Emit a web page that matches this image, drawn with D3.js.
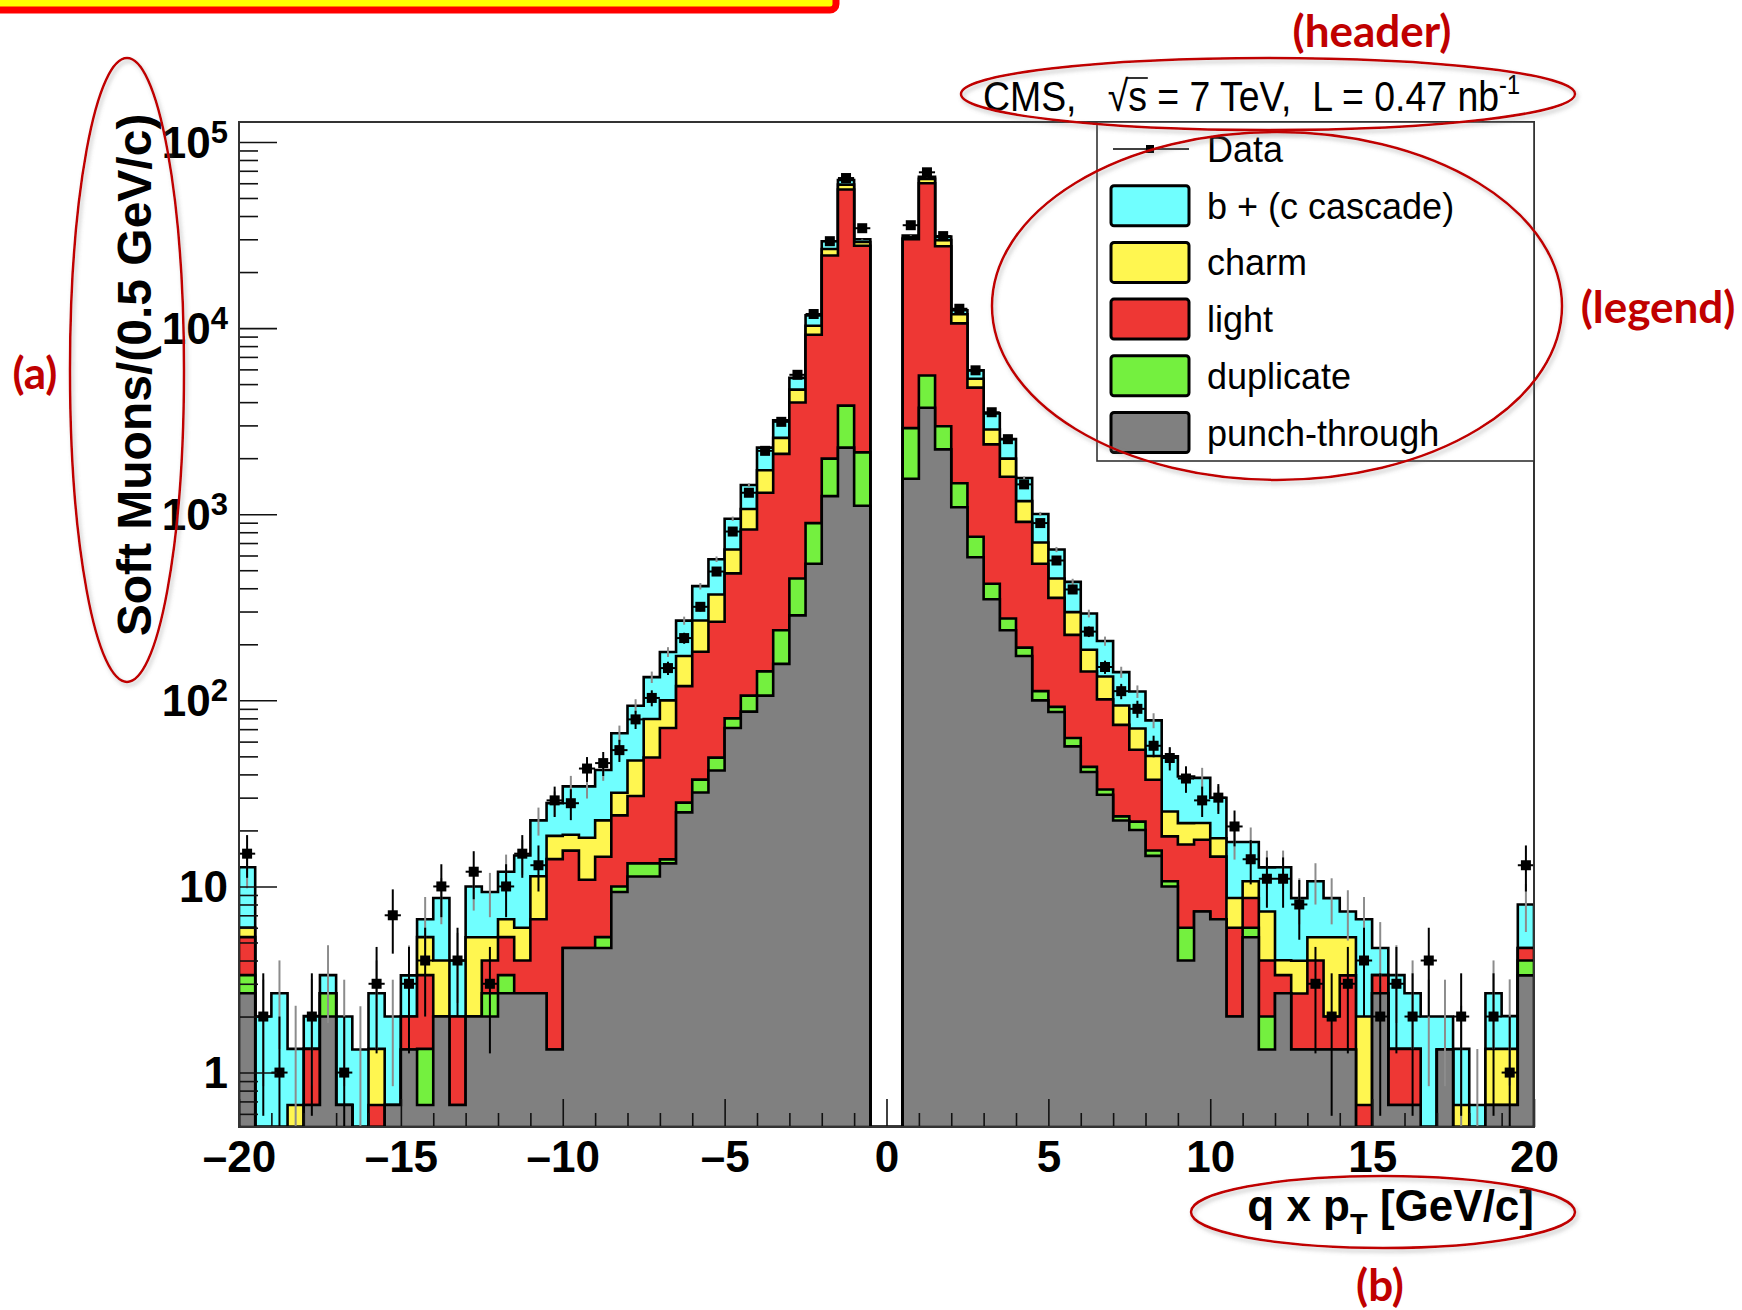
<!DOCTYPE html>
<html>
<head>
<meta charset="utf-8">
<script src="https://cdn.jsdelivr.net/npm/d3@7"></script>
<style>
  body { margin: 0; background: #fff; }
  svg { display: block; }
  text { font-family: "Liberation Sans", Arial, Helvetica, sans-serif; }
  .note { font-family: Lato, "Open Sans", sans-serif; font-weight: bold; fill: #c00000; }
</style>
</head>
<body>
<div id="chart"></div>
<script>
// 80 bins of 0.5 GeV/c, low edges from -20 to 19.5
var binWidth = 0.5;
var binLow = d3.range(-20, 20, binWidth);

// stacked MC components per bin
var punchThrough = [2.67, 0, 0, 0, 0.67, 2, 0.67, 0, 0, 0.67,
  1.33, 0.67, 2, 0.67, 2, 2, 2.67, 2.67, 2.67, 1.33,
  4.67, 4.67, 4.67, 9.33, 11.3, 11.3, 13.3, 25, 32, 42,
  71, 87, 106, 157, 286, 542, 1250, 2280, 1110, 0,
  0, 1550, 3730, 2230, 1090, 587, 349, 238, 173, 100,
  86.5, 56.6, 41.2, 31.1, 22.6, 20.1, 14.6, 10, 4, 7.33,
  6.67, 2, 5.33, 1.33, 2.67, 1.33, 1.33, 1.33, 1.33, 0,
  2.67, 0.67, 0.67, 0, 1.33, 0, 0, 0.67, 0.67, 3.33];
var duplicate = [0.67, 0, 0, 0, 0, 0.67, 0, 0, 0, 0,
  0, 0.67, 0, 0, 0, 0.67, 0.67, 0, 0, 0,
  0, 0, 0.67, 0.67, 2, 2, 0.67, 3.2, 5.5, 7.2,
  9, 19, 37, 81, 165, 353, 740, 1550, 1040, 0,
  0, 1350, 1830, 740, 376, 170, 74, 37, 19, 12,
  5.7, 6.2, 2.7, 2.1, 1.2, 2.2, 1, 0.67, 2, 0,
  0, 0, 0.67, 0.67, 0, 0, 0, 0, 0, 0,
  0, 0, 0, 0, 0, 0, 0, 0, 0, 0.67];
var light = [2, 0, 0, 0, 0.67, 0, 0, 0, 0.67, 0,
  0.67, 2, 0, 1.33, 0, 1.33, 2, 1.33, 4, 12.7,
  10.9, 6.2, 9.1, 14.1, 17.3, 36, 57, 91, 145, 215,
  401, 721, 1160, 1870, 3530, 8310, 22560, 51670, 25550, 0,
  0, 27100, 54400, 24530, 9130, 4030, 1950, 1315, 718, 430,
  263, 162, 99, 68, 50, 32, 21.8, 7.9, 10.8, 10.5,
  7.8, 4, 2.67, 2, 0.67, 1.33, 2.67, 0.67, 2, 0.67,
  0.67, 0.67, 0.67, 0, 0, 0, 0, 0, 0, 0.67];
var charm = [0.67, 0, 0, 0.67, 0, 0, 0, 0, 0.67, 0,
  0, 2, 2, 0, 3.33, 1.33, 1.33, 2, 4.67, 4.67,
  3.4, 7.4, 8.2, 7.8, 16.9, 30, 29, 54, 86, 106,
  165, 240, 418, 464, 689, 1090, 2050, 3500, 1300, 0,
  0, 500, 3400, 2200, 1280, 560, 480, 400, 266, 163,
  96, 73, 44, 33, 20, 16.3, 12.8, 6.7, 5.1, 4.1,
  3.7, 2.67, 2, 3.33, 0.67, 1.33, 1.33, 3.33, 2, 1.33,
  0, 0, 0, 0, 0, 0.67, 0, 0.67, 0.67, 0];
var bCascade = [6.67, 2, 2.67, 0.67, 0.67, 0.67, 1.33, 1.33, 1.33, 1.33,
  1.33, 1.33, 4.67, 2, 4.67, 4, 5.33, 8.67, 11.3, 9.33,
  15.5, 16.2, 19.6, 34.6, 46, 54, 82, 95, 142, 203,
  300, 368, 558, 619, 730, 1410, 2700, 3500, 1000, 0,
  0, 900, 1600, 1300, 590, 580, 630, 540, 390, 298,
  195, 135, 106, 74, 48, 41, 27.8, 24.7, 17.1, 16.4,
  11.8, 8.67, 6.67, 5.33, 8.67, 4.67, 5.33, 3.33, 2, 4.67,
  1.33, 2, 1.33, 2, 0.67, 0.67, 0.67, 1.33, 0.67, 3.33];

// observed counts
var dataCounts = [15, 2, 1, 0, 2, 0, 1, 0, 3, 7,
  3, 4, 10, 4, 12, 3, 10, 15, 13, 29,
  28, 43, 46, 54, 79, 103, 149, 216, 318, 492,
  807, 1304, 2190, 3135, 5610, 11900, 29300, 64000, 34400, 0,
  0, 35700, 68700, 31200, 12700, 5930, 3530, 2530, 1446, 896,
  564, 394, 234, 151, 112, 90, 57, 49, 38, 29,
  30, 21, 14, 11, 11, 8, 3, 2, 3, 4,
  2, 3, 2, 4, 0, 2, 0, 2, 1, 13];

var xTicks = [-20, -15, -10, -5, 0, 5, 10, 15, 20];
var xMinorTicks = [-19, -18, -17, -16, -14, -13, -12, -11, -9, -8, -7, -6, -4, -3, -2, -1,
  1, 2, 3, 4, 6, 7, 8, 9, 11, 12, 13, 14, 16, 17, 18, 19];
var yTicks = [1, 10, 100, 1000, 10000, 100000];
var yMinorTicks = [0.6, 0.7, 0.8, 0.9, 2, 3, 4, 5, 6, 7, 8, 9, 20, 30, 40, 50, 60, 70, 80, 90,
  200, 300, 400, 500, 600, 700, 800, 900, 2000, 3000, 4000, 5000, 6000, 7000, 8000, 9000,
  20000, 30000, 40000, 50000, 60000, 70000, 80000, 90000];

var legendLabels = ["Data", "b + (c cascade)", "charm", "light", "duplicate", "punch-through"];
var keys = ["punch", "dup", "light", "charm", "bcc"];
var colours = {punch: "#808080", dup: "#74f03f", light: "#ee3734", charm: "#fff650", bcc: "#70ffff"};
var mcWeight = 0.667;

// page and frame
var svgWidth = 1742, svgHeight = 1310;
var frame = {left: 239, right: 1534, top: 122, bottom: 1127};
var yMin = 0.51, yMax = 1.28e5;

var svg = d3.select("#chart").append("svg")
  .attr("width", svgWidth)
  .attr("height", svgHeight);

var defs = svg.append("defs");
defs.append("clipPath").attr("id", "plotClip")
  .append("rect")
  .attr("x", frame.left).attr("y", frame.top)
  .attr("width", frame.right - frame.left).attr("height", frame.bottom - frame.top);
var shadow = defs.append("filter").attr("id", "shadow")
  .attr("x", "-10%").attr("y", "-10%").attr("width", "120%").attr("height", "130%");
shadow.append("feDropShadow")
  .attr("dx", 2).attr("dy", 3).attr("stdDeviation", 2)
  .attr("flood-color", "#777").attr("flood-opacity", 0.45);

var x = d3.scaleLinear().domain([-20, 20]).range([frame.left, frame.right]);
var y = d3.scaleLog().domain([yMin, yMax]).range([frame.bottom, frame.top]).clamp(true);

// stack the components
var table = binLow.map(function(lo, i) {
  return {lo: lo, punch: punchThrough[i], dup: duplicate[i], light: light[i], charm: charm[i], bcc: bCascade[i]};
});
var series = d3.stack().keys(keys)(table);

var area = d3.area()
  .curve(d3.curveStepAfter)
  .x(function(d) { return x(d.x); })
  .y0(frame.bottom)
  .y1(function(d) { return y(Math.max(d.top, yMin)); });

var plot = svg.append("g").attr("clip-path", "url(#plotClip)");

// draw the cumulative layers from the top one down, each with a black outline
series.slice().reverse().forEach(function(s) {
  var pts = s.map(function(d, i) { return {x: binLow[i], top: d[1]}; });
  pts.push({x: 20, top: s[s.length - 1][1]});
  plot.append("path")
    .attr("d", area(pts))
    .attr("fill", colours[s.key])
    .attr("stroke", "#000")
    .attr("stroke-width", 2.6)
    .attr("stroke-linejoin", "miter");
});

// MC statistical error (grey)
var totals = series[series.length - 1].map(function(d, i) { return {lo: binLow[i], t: d[1]}; })
  .filter(function(d) { return d.t > 0; });
plot.selectAll(".mcerr")
  .data(totals)
  .enter()
  .append("line")
  .attr("x1", function(d) { return x(d.lo + binWidth / 2); })
  .attr("x2", function(d) { return x(d.lo + binWidth / 2); })
  .attr("y1", function(d) { return y(d.t + Math.sqrt(d.t * mcWeight)); })
  .attr("y2", function(d) { return y(Math.max(d.t - Math.sqrt(d.t * mcWeight), yMin)); })
  .attr("stroke", "#8c8c8c")
  .attr("stroke-width", 2);

// data points with poisson errors
var points = binLow.map(function(lo, i) { return {lo: lo, n: dataCounts[i]}; })
  .filter(function(d) { return d.n > 0; });
plot.selectAll(".derr")
  .data(points)
  .enter()
  .append("line")
  .attr("x1", function(d) { return x(d.lo + binWidth / 2); })
  .attr("x2", function(d) { return x(d.lo + binWidth / 2); })
  .attr("y1", function(d) { return y(d.n + Math.sqrt(d.n)); })
  .attr("y2", function(d) { return y(Math.max(d.n - Math.sqrt(d.n), yMin)); })
  .attr("stroke", "#000")
  .attr("stroke-width", 2);
plot.selectAll(".dbin")
  .data(points)
  .enter()
  .append("line")
  .attr("x1", function(d) { return x(d.lo); })
  .attr("x2", function(d) { return x(d.lo + binWidth); })
  .attr("y1", function(d) { return y(d.n); })
  .attr("y2", function(d) { return y(d.n); })
  .attr("stroke", "#000")
  .attr("stroke-width", 2);
plot.selectAll(".dmark")
  .data(points)
  .enter()
  .append("rect")
  .attr("x", function(d) { return x(d.lo + binWidth / 2) - 5; })
  .attr("y", function(d) { return y(d.n) - 5; })
  .attr("width", 10)
  .attr("height", 10)
  .attr("fill", "#000");

// axes (ticks point inward, drawn over the histogram)
function styleAxis(g) {
  g.select(".domain").remove();
  g.attr("font-family", null).attr("font-size", null);
  g.selectAll(".tick line").attr("stroke", "#111").attr("stroke-width", 1.6);
}

svg.append("g")
  .attr("transform", "translate(0," + frame.bottom + ")")
  .call(d3.axisBottom(x).tickValues(xMinorTicks).tickSize(-14).tickFormat(""))
  .call(styleAxis);

var xAxisG = svg.append("g")
  .attr("transform", "translate(0," + frame.bottom + ")")
  .call(d3.axisBottom(x).tickValues(xTicks).tickSize(-28).tickPadding(14)
    .tickFormat(function(d) { return d < 0 ? "\u2013" + (-d) : d; }))
  .call(styleAxis);
xAxisG.selectAll(".tick text")
  .attr("font-size", 44)
  .attr("font-weight", "bold")
  .attr("fill", "#000");

svg.append("g")
  .attr("transform", "translate(" + frame.left + ",0)")
  .call(d3.axisLeft(y).tickValues(yMinorTicks).tickSize(-19).tickFormat(""))
  .call(styleAxis);

var yAxisG = svg.append("g")
  .attr("transform", "translate(" + frame.left + ",0)")
  .call(d3.axisLeft(y).tickValues(yTicks).tickSize(-38).tickPadding(11))
  .call(styleAxis);
yAxisG.selectAll(".tick text")
  .attr("font-size", 44)
  .attr("font-weight", "bold")
  .attr("fill", "#000")
  .attr("dy", "0.35em")
  .each(function(d) {
    var e = Math.round(Math.log10(d));
    var t = d3.select(this).text(e === 0 ? "1" : "10");
    if (e > 1) {
      t.append("tspan").attr("dy", "-0.48em").attr("font-size", 31).text(e);
    }
  });

// frame
svg.append("rect")
  .attr("x", frame.left).attr("y", frame.top)
  .attr("width", frame.right - frame.left).attr("height", frame.bottom - frame.top)
  .attr("fill", "none")
  .attr("stroke", "#333")
  .attr("stroke-width", 2);

// axis titles
svg.append("text")
  .attr("transform", "translate(151,375) rotate(-90)")
  .attr("text-anchor", "middle")
  .attr("font-size", 48)
  .attr("font-weight", "bold")
  .text("Soft Muons/(0.5 GeV/c)");

var xTitle = svg.append("text")
  .attr("x", frame.right)
  .attr("y", 1221)
  .attr("text-anchor", "end")
  .attr("font-size", 44)
  .attr("font-weight", "bold");
xTitle.append("tspan").text("q x p");
xTitle.append("tspan").attr("dy", 13).attr("font-size", 29).text("T");
xTitle.append("tspan").attr("dy", -13).style("white-space", "pre").text(" [GeV/c]");

// header
var headerG = svg.append("g").attr("transform", "translate(983,111) scale(0.87,1)");
var header = headerG.append("text")
  .attr("font-size", 43)
  .style("white-space", "pre");
var headerMain = "CMS,   \u221As = 7 TeV,  L = 0.47 nb";
header.append("tspan").text(headerMain);
header.append("tspan").attr("dy", -17).attr("font-size", 27).text("-1");
var sIdx = headerMain.indexOf("\u221A") + 1;
var rootBox = header.node().getExtentOfChar(sIdx - 1);
var sBox = header.node().getExtentOfChar(sIdx);
headerG.append("line")
  .attr("x1", rootBox.x + rootBox.width - 2)
  .attr("x2", sBox.x + sBox.width + 1)
  .attr("y1", -33).attr("y2", -33)
  .attr("stroke", "#000")
  .attr("stroke-width", 1.6);

// legend
var legend = {left: 1097, top: 122, right: 1534, bottom: 461, rowTop: 149, rowStep: 56.7};
svg.append("rect")
  .attr("x", legend.left).attr("y", legend.top)
  .attr("width", legend.right - legend.left).attr("height", legend.bottom - legend.top)
  .attr("fill", "#fff")
  .attr("stroke", "#333")
  .attr("stroke-width", 1.6);

var legendKeys = [null, "bcc", "charm", "light", "dup", "punch"];
legendLabels.forEach(function(label, i) {
  var cy = legend.rowTop + i * legend.rowStep;
  if (i === 0) {
    svg.append("line")
      .attr("x1", 1113).attr("x2", 1189).attr("y1", cy).attr("y2", cy)
      .attr("stroke", "#000").attr("stroke-width", 1.6);
    svg.append("rect")
      .attr("x", 1146).attr("y", cy - 4).attr("width", 8).attr("height", 8)
      .attr("fill", "#000");
  } else {
    svg.append("rect")
      .attr("x", 1111).attr("y", cy - 20).attr("width", 78).attr("height", 40)
      .attr("rx", 3)
      .attr("fill", colours[legendKeys[i]])
      .attr("stroke", "#000")
      .attr("stroke-width", 3);
  }
  svg.append("text")
    .attr("x", 1207)
    .attr("y", cy + 13)
    .attr("font-size", 36)
    .text(label);
});

// annotation layer
svg.append("rect")
  .attr("x", -20).attr("y", -40).attr("width", 856).attr("height", 50)
  .attr("rx", 6)
  .attr("fill", "#ffff00")
  .attr("stroke", "#ff0000")
  .attr("stroke-width", 7);

var ellipses = [
  {cx: 1268, cy: 94, rx: 307, ry: 36},
  {cx: 1277, cy: 306, rx: 285, ry: 174},
  {cx: 127, cy: 370, rx: 57, ry: 312},
  {cx: 1383, cy: 1212, rx: 192, ry: 36}
];
svg.selectAll(".ring")
  .data(ellipses)
  .enter()
  .append("ellipse")
  .attr("cx", function(d) { return d.cx; })
  .attr("cy", function(d) { return d.cy; })
  .attr("rx", function(d) { return d.rx; })
  .attr("ry", function(d) { return d.ry; })
  .attr("fill", "none")
  .attr("stroke", "#c00000")
  .attr("stroke-width", 2.5)
  .attr("filter", "url(#shadow)");

var notes = [
  {text: "(header)", x: 1372, y: 47},
  {text: "(legend)", x: 1658, y: 323},
  {text: "(a)", x: 35, y: 389},
  {text: "(b)", x: 1380, y: 1301}
];
svg.selectAll(".note")
  .data(notes)
  .enter()
  .append("text")
  .attr("class", "note")
  .attr("x", function(d) { return d.x; })
  .attr("y", function(d) { return d.y; })
  .attr("text-anchor", "middle")
  .attr("font-size", 44)
  .text(function(d) { return d.text; });
</script>
</body>
</html>
